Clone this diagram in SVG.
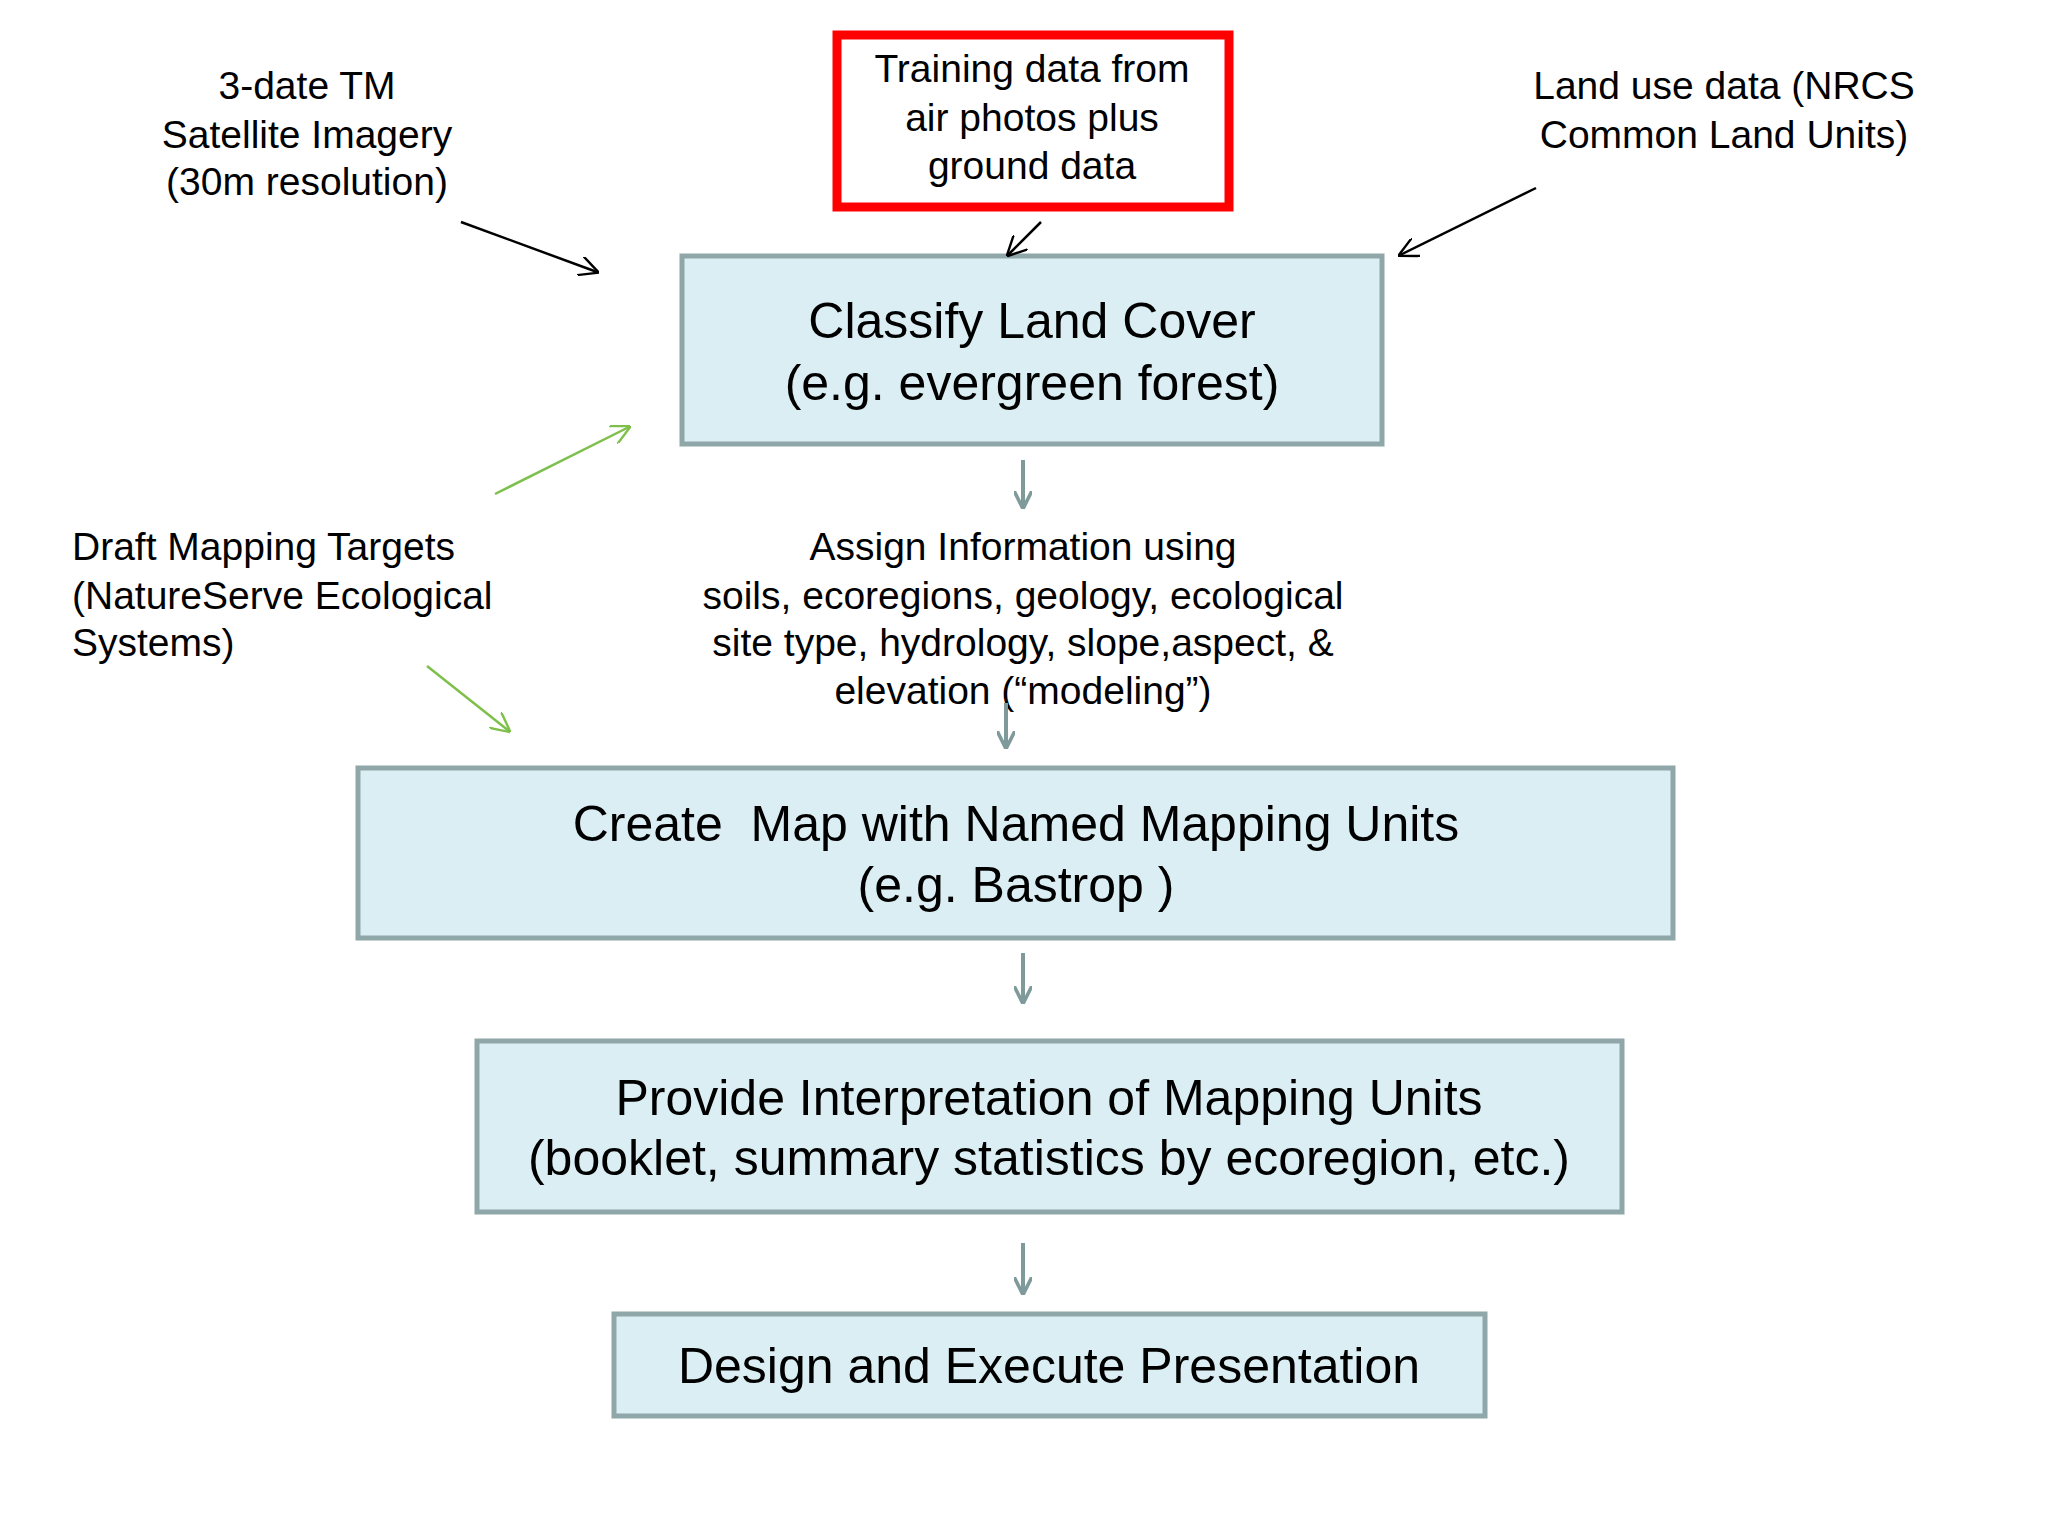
<svg xmlns="http://www.w3.org/2000/svg" width="2048" height="1536" viewBox="0 0 2048 1536">
<defs>
<style>
.box{fill:#daeef3;stroke:#8fa7a8;stroke-width:5}
.big{font-family:"Liberation Sans",Arial,sans-serif;font-size:50px;fill:#000;text-anchor:middle}
.sm{font-family:"Liberation Sans",Arial,sans-serif;font-size:39px;fill:#000;text-anchor:middle}
.blk{stroke:#000;stroke-width:2.5;fill:none;marker-end:url(#ab)}
.grn{stroke:#7fc04c;stroke-width:2.5;fill:none;marker-end:url(#ag)}
.gry{stroke:#7f9a9b;stroke-width:4;fill:none;marker-end:url(#ay)}
</style>
<marker id="ab" viewBox="0 0 10 10" refX="9" refY="5" markerWidth="20" markerHeight="20" markerUnits="userSpaceOnUse" orient="auto"><path d="M0,0L10,5L0,10" fill="none" stroke="#000" stroke-width="1.2"/></marker>
<marker id="ag" viewBox="0 0 10 10" refX="9" refY="5" markerWidth="20" markerHeight="20" markerUnits="userSpaceOnUse" orient="auto"><path d="M0,0L10,5L0,10" fill="none" stroke="#7fc04c" stroke-width="1.2"/></marker>
<marker id="ay" viewBox="0 0 10 10" refX="9" refY="5" markerWidth="18" markerHeight="18" markerUnits="userSpaceOnUse" orient="auto"><path d="M0,0L10,5L0,10" fill="none" stroke="#7f9a9b" stroke-width="2"/></marker>
</defs>
<rect width="2048" height="1536" fill="#fff"/>
<g id="training"><rect x="837" y="35" width="392" height="172" fill="#fff" stroke="#ff0000" stroke-width="9"/>
<text class="sm" x="1032" y="82">Training data from</text><text class="sm" x="1032" y="131">air photos plus</text><text class="sm" x="1032" y="179">ground data</text></g>
<g id="satellite"><text class="sm" x="307" y="99">3-date TM</text><text class="sm" x="307" y="148">Satellite Imagery</text><text class="sm" x="307" y="195">(30m resolution)</text></g>
<g id="landuse"><text class="sm" x="1724" y="99">Land use data (NRCS</text><text class="sm" x="1724" y="148">Common Land Units)</text></g>
<g id="classify"><rect class="box" x="682" y="256" width="700" height="188"/>
<text class="big" x="1032" y="338">Classify Land Cover</text><text class="big" x="1032" y="400">(e.g. evergreen forest)</text></g>
<g id="draft"><text class="sm" x="72" y="560" style="text-anchor:start">Draft Mapping Targets</text><text class="sm" x="72" y="609" style="text-anchor:start">(NatureServe Ecological</text><text class="sm" x="72" y="656" style="text-anchor:start">Systems)</text></g>
<g id="assign"><text class="sm" x="1023" y="560">Assign Information using</text><text class="sm" x="1023" y="609">soils, ecoregions, geology, ecological</text><text class="sm" x="1023" y="656">site type, hydrology, slope,aspect, &amp;</text><text class="sm" x="1023" y="704">elevation (“modeling”)</text></g>
<g id="create"><rect class="box" x="358" y="768" width="1315" height="170"/>
<text class="big" x="1016" y="841" xml:space="preserve">Create  Map with Named Mapping Units</text><text class="big" x="1016" y="902">(e.g. Bastrop )</text></g>
<g id="provide"><rect class="box" x="477" y="1041" width="1145" height="171"/>
<text class="big" x="1049" y="1115">Provide Interpretation of Mapping Units</text><text class="big" x="1049" y="1175">(booklet, summary statistics by ecoregion, etc.)</text></g>
<g id="design"><rect class="box" x="614" y="1314" width="871" height="102"/>
<text class="big" x="1049" y="1383">Design and Execute Presentation</text></g>
<g id="connectors">
<line class="blk" x1="461" y1="222" x2="597" y2="272"/>
<line class="blk" x1="1041" y1="222" x2="1008" y2="255"/>
<line class="blk" x1="1536" y1="188" x2="1400" y2="255"/>
<line class="grn" x1="495" y1="494" x2="629" y2="427"/>
<line class="grn" x1="427" y1="666" x2="509" y2="731"/>
<line class="gry" x1="1023" y1="460" x2="1023" y2="507"/>
<line class="gry" x1="1006" y1="703" x2="1006" y2="747"/>
<line class="gry" x1="1023" y1="953" x2="1023" y2="1002"/>
<line class="gry" x1="1023" y1="1243" x2="1023" y2="1293"/>
</g>
</svg>
